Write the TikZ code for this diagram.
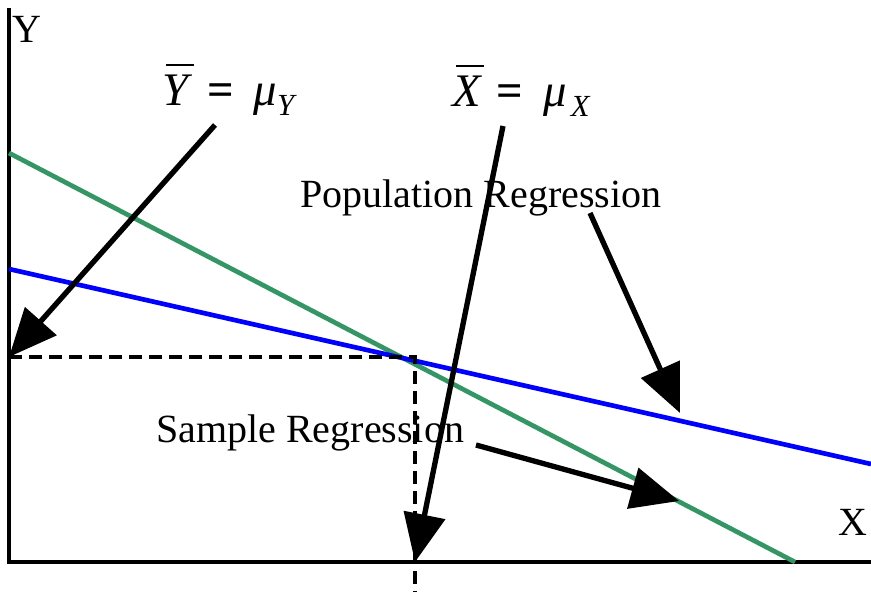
\documentclass[tikz,border=0pt]{standalone}
\usepackage{fontspec}
\setmainfont{Liberation Serif}
\usetikzlibrary{arrows.meta}
\definecolor{sgreen}{RGB}{51,150,100}
\newcommand{\barred}[1]{\rlap{\hspace{3pt}\rule[30pt]{21pt}{1.6pt}}\textit{#1}}
\begin{document}
\begin{tikzpicture}[x=0.75pt,y=-0.75pt,
  lbl/.style={inner sep=0pt,anchor=base west,font=\fontsize{30}{36}\selectfont},
  mlbl/.style={inner sep=0pt,anchor=base west,font=\fontsize{35}{40}\selectfont},
  axis/.style={line width=2.5pt,black},
  regline/.style={line width=3.5pt},
  guide/.style={line width=2.5pt,dash pattern=on 10pt off 5pt},
  pointer/.style={line width=4pt,-{Triangle[length=36pt,width=31pt]}}]
\useasboundingbox (0,0) rectangle (871,592);
% coordinates
\coordinate (yt) at (9,8);
\coordinate (o) at (9,562);
\coordinate (xr) at (871,562);
\coordinate (g1) at (9,153);
\coordinate (g2) at (795,562);
\coordinate (b1) at (9,269);
\coordinate (b2) at (871,464);
\coordinate (yb) at (9,357);
\coordinate (c) at (415,357);
\coordinate (xb) at (415,562);
\coordinate (xd) at (415,592);
\coordinate (a1s) at (215,125);
\coordinate (a2s) at (503,126);
\coordinate (a3s) at (590,213);
\coordinate (a3e) at (680,413);
\coordinate (a4s) at (476,445);
\coordinate (a4e) at (679,501);
% axes
\draw[axis] (yt) -- (o) -- (xr);
% regression lines
\draw[regline,sgreen] (g1) -- (g2);
\draw[regline,blue] (b1) -- (b2);
% dashed guides
\draw[guide] (yb) -- (c) -- (xd);
% labels
\node[lbl] (ylab) at (12,43) {Y};
\node[lbl] (xlab) at (838,535) {X};
\node[mlbl] (ybar) at (162,106) {\barred{Y}\hspace{11pt}\textbf{=}\hspace{15pt}\textit{μ}\raisebox{-7pt}{\fontsize{23}{24}\selectfont\itshape Y}};
\node[mlbl] (xbar) at (452,107) {\barred{X}\hspace{11pt}\textbf{=}\hspace{15pt}\textit{μ}\hspace{3pt}\raisebox{-7pt}{\fontsize{23}{24}\selectfont\itshape X}};
\node[lbl] (pop) at (300,207) {Population Regression};
\node[lbl] (samp) at (156,442) {Sample Regression};
% pointers
\draw[pointer] (a1s) -- (yb);
\draw[pointer] (a2s) -- (xb);
\draw[pointer] (a3s) -- (a3e);
\draw[pointer] (a4s) -- (a4e);
\end{tikzpicture}
\end{document}
